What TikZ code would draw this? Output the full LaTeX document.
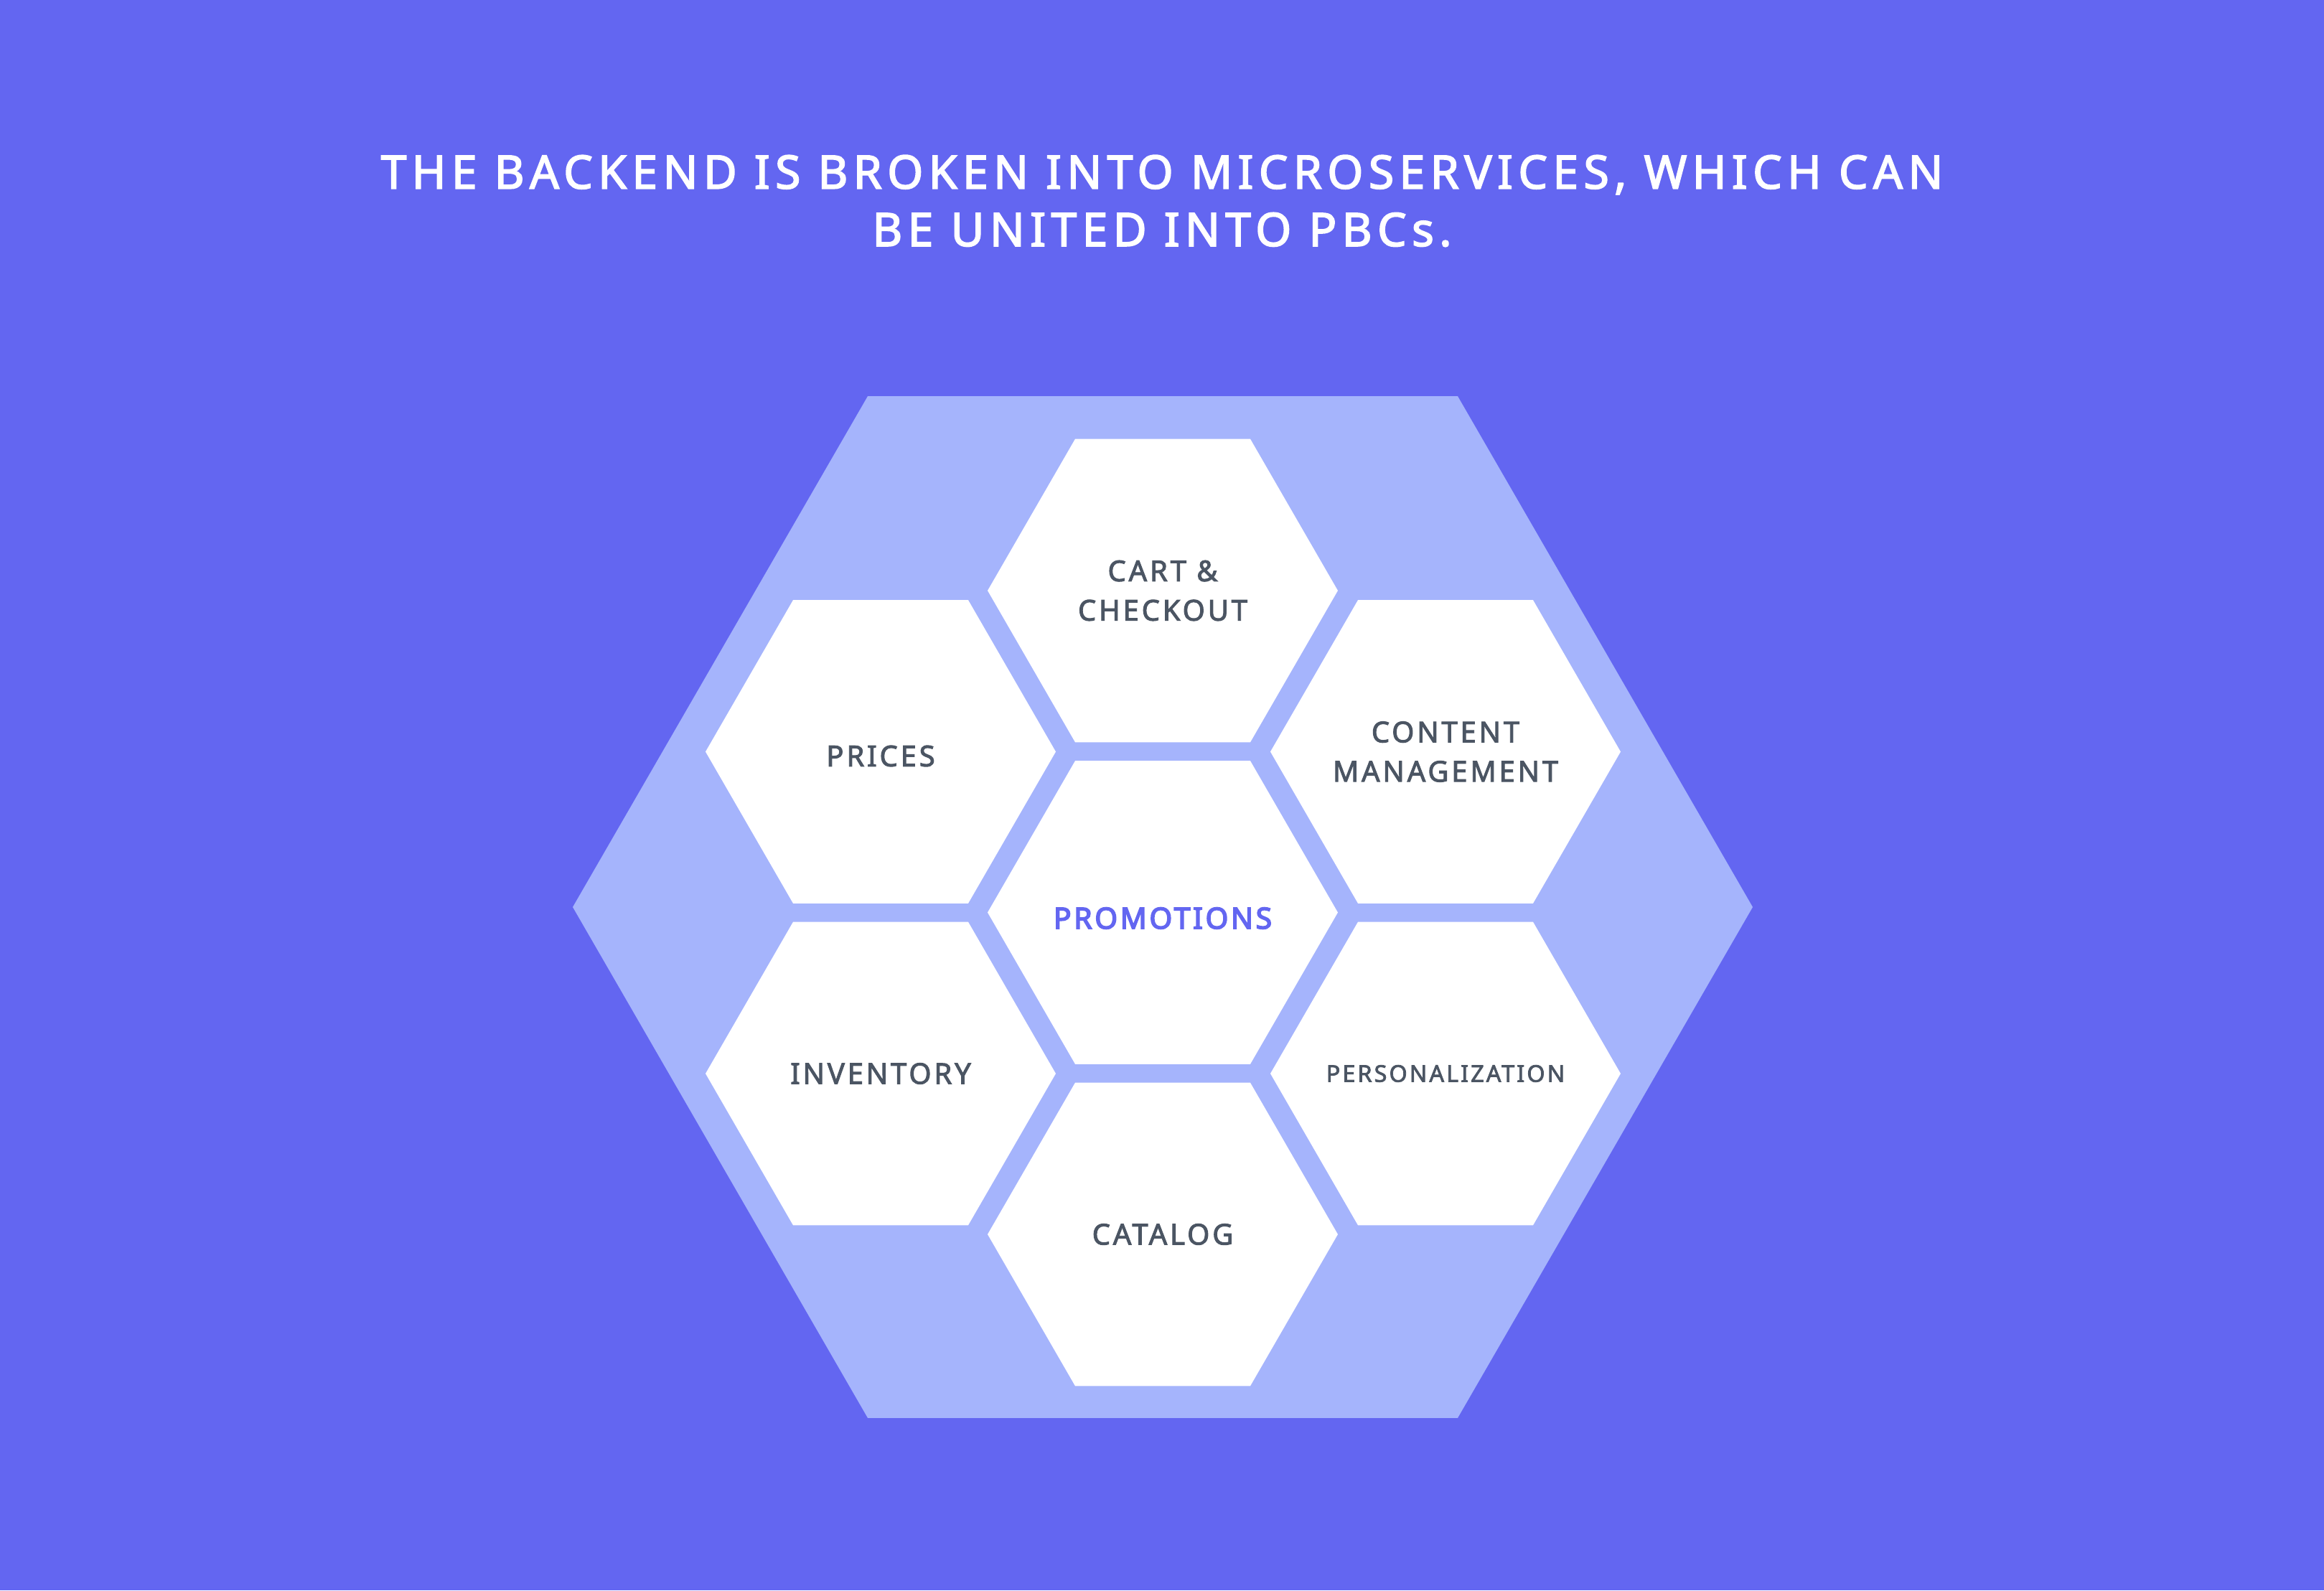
\documentclass[tikz,border=0pt]{standalone}
\usepackage{fontspec}
\setmainfont{Noto Sans}
\newfontfamily\titlefont[LetterSpace=11.5, FakeBold=2.6]{Noto Sans}
\newfontfamily\cellfont[LetterSpace=9.5, FakeBold=2.4]{Noto Sans}
\newfontfamily\promofont[LetterSpace=9, FakeBold=4]{Noto Sans}
\usetikzlibrary{shapes.geometric}
\definecolor{indigobg}{HTML}{6366F1}
\definecolor{indigolight}{HTML}{A5B4FC}
\definecolor{cellgray}{HTML}{4B5563}
\begin{document}
\begin{tikzpicture}[
    hexcell/.style={regular polygon, regular polygon sides=6, fill=white, inner sep=0pt, outer sep=0pt, minimum size=4.88cm},
    pbc/.style={regular polygon, regular polygon sides=6, fill=indigolight, inner sep=0pt, minimum size=16.44cm},
    celltext/.style={text=cellgray, align=center, inner sep=0pt, font=\cellfont\fontsize{11.4}{15.6}\selectfont}]
  \fill[indigobg] (0,0) rectangle (32.38,22.16);
  \useasboundingbox (0,0) rectangle (32.38,22.16);
  \node[text=white, align=center, font=\titlefont\fontsize{18.3}{22.8}\selectfont] (title) at (16.19,19.36)
    {THE BACKEND IS BROKEN INTO MICROSERVICES, WHICH CAN\\BE UNITED INTO PBCs.};
  \node[pbc] (outer) at (16.20,9.52) {};
  \node[hexcell] (cart) at (16.20,13.93) {};
  \node[hexcell] (prices) at (12.27,11.685) {};
  \node[hexcell] (content) at (20.14,11.685) {};
  \node[hexcell] (promo) at (16.20,9.445) {};
  \node[hexcell] (inventory) at (12.27,7.20) {};
  \node[hexcell] (personal) at (20.14,7.20) {};
  \node[hexcell] (catalog) at (16.20,4.96) {};
  \node[celltext] (cartlabel) at (cart.center) {CART \&\\CHECKOUT};
  \node[celltext] (priceslabel) at ([yshift=-0.06cm]prices.center) {PRICES};
  \node[celltext] (contentlabel) at (content.center) {CONTENT\\MANAGEMENT};
  \node[celltext, text=indigobg, font=\promofont\fontsize{11.6}{15.6}\selectfont] (promolabel) at ([yshift=-0.08cm]promo.center) {PROMOTIONS};
  \node[celltext] (inventorylabel) at (inventory.center) {INVENTORY};
  \node[celltext, font=\cellfont\fontsize{9.2}{12}\selectfont] (personallabel) at (personal.center) {PERSONALIZATION};
  \node[celltext] (cataloglabel) at (catalog.center) {CATALOG};
\end{tikzpicture}
\end{document}
